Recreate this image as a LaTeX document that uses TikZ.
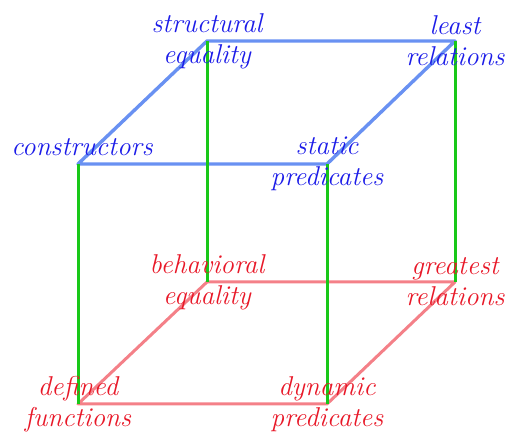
\documentclass[tikz,border=0pt]{standalone}
\usepackage{tikz}
\usetikzlibrary{positioning}
\definecolor{toptext}{RGB}{28,28,232}
\definecolor{topline}{RGB}{105,145,242}
\definecolor{bottext}{RGB}{232,24,40}
\definecolor{botline}{RGB}{244,128,136}
\definecolor{edgegreen}{RGB}{24,200,24}

\begin{document}
\begin{tikzpicture}[x=0.5pt, y=0.5pt,
  lbl/.style={align=center, inner sep=0pt, font=\fontsize{13.6}{15.5}\selectfont\itshape},
  toplbl/.style={lbl, text=toptext},
  botlbl/.style={lbl, text=bottext},
  upper/.style={topline, line width=1.7pt, line join=round},
  lower/.style={botline, line width=1.5pt, line join=round},
  pillar/.style={edgegreen, line width=1.5pt}]
  \useasboundingbox (0,0) rectangle (512,437);
  \coordinate (con) at (78,273);
  \coordinate (sta) at (327,273);
  \coordinate (str) at (207,396);
  \coordinate (lea) at (455,396);
  \coordinate (def) at (78,33);
  \coordinate (dyn) at (327,33);
  \coordinate (beh) at (207,155);
  \coordinate (gre) at (455,155);

  \draw[upper] (con) -- (sta) -- (lea) -- (str) -- cycle;
  \draw[lower] (def) -- (dyn) -- (gre) -- (beh) -- cycle;
  \draw[pillar] (con) -- (def);
  \draw[pillar] (sta) -- (dyn);
  \draw[pillar] (str) -- (beh);
  \draw[pillar] (lea) -- (gre);

  \node[toplbl, above=4pt of con, xshift=2pt] (conl) {constructors};
  \node[toplbl] (stal) at (sta) {static\\predicates};
  \node[toplbl] (strl) at (str) {structural\\equality};
  \node[toplbl] (leal) at (lea) {least\\relations};
  \node[botlbl] (defl) at (def) {defined\\functions};
  \node[botlbl] (dynl) at (dyn) {dynamic\\predicates};
  \node[botlbl] (behl) at (beh) {behavioral\\equality};
  \node[botlbl] (grel) at (gre) {greatest\\relations};
\end{tikzpicture}
\end{document}
